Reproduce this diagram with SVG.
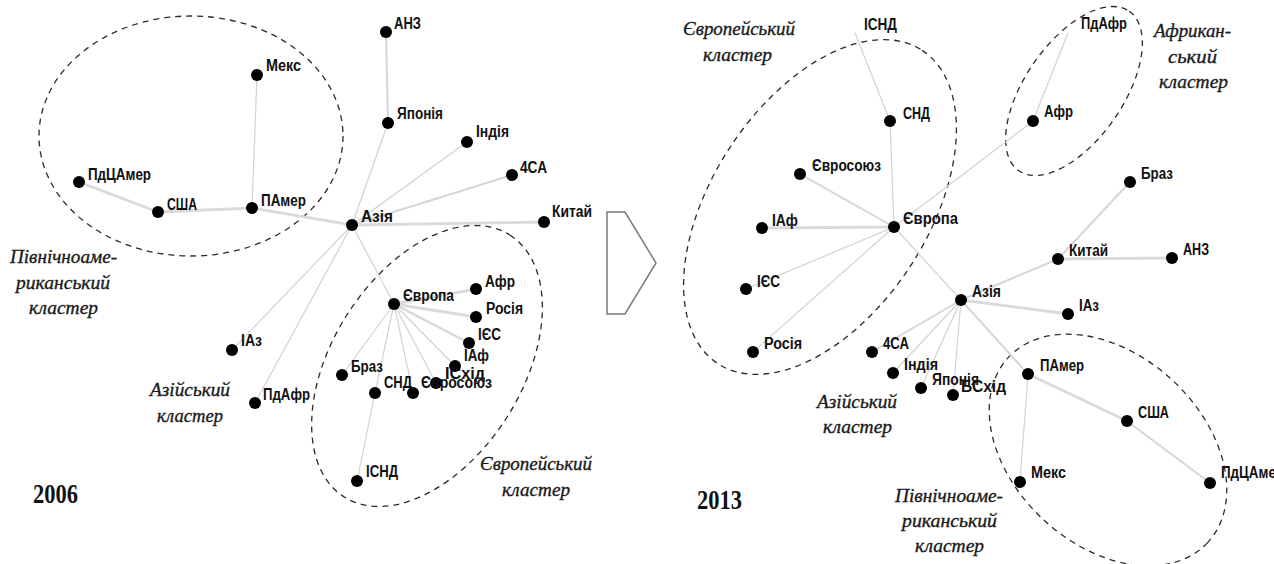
<svg xmlns="http://www.w3.org/2000/svg" width="1274" height="564" viewBox="0 0 1274 564">
<style>
.e{stroke:#d2d2d2;stroke-width:1.2;fill:none;stroke-linecap:round}
.m{stroke:#d6d6d6;stroke-width:2;fill:none;stroke-linecap:round}
.t{stroke:#dadada;stroke-width:2.8;fill:none;stroke-linecap:round}
.cl{fill:none;stroke:#2a2a2a;stroke-width:1.3;stroke-dasharray:6 5}
.n circle{fill:#000}
.n text{font-family:"Liberation Sans",Arial,sans-serif;font-weight:bold;font-size:16px;fill:#111}
.lb{font-family:"Liberation Serif","Times New Roman",serif;font-style:italic;font-size:19px;fill:#1a1a1a;stroke:#1a1a1a;stroke-width:0.35}
.yr{font-family:"Liberation Serif","Times New Roman",serif;font-weight:bold;font-size:27px;fill:#111}
</style>
<rect width="1274" height="564" fill="#fff"/>

<!-- clusters -->
<g id="clusters">
<ellipse class="cl" cx="191" cy="136" rx="152" ry="120"/>
<ellipse class="cl" cx="427" cy="366" rx="155" ry="95" transform="rotate(-57.7 427 366)"/>
<ellipse class="cl" cx="820" cy="207" rx="187" ry="108" transform="rotate(-56.9 820 207)"/>
<ellipse class="cl" cx="1074" cy="91" rx="97" ry="49" transform="rotate(-55.3 1074 91)"/>
<ellipse class="cl" cx="1108" cy="450" rx="136" ry="95" transform="rotate(42.9 1108 450)"/>
</g>

<!-- connectors -->
<g id="connectors">
<line class="m" x1="386" y1="32" x2="388" y2="123"/>
<line class="e" x1="388" y1="123" x2="352" y2="225"/>
<line class="e" x1="467" y1="142" x2="352" y2="225"/>
<line class="m" x1="512" y1="175" x2="352" y2="225"/>
<line class="t" x1="544" y1="222" x2="352" y2="225"/>
<line class="e" x1="257" y1="75" x2="252" y2="208"/>
<line class="t" x1="79" y1="182" x2="158" y2="212"/>
<line class="t" x1="158" y1="212" x2="252" y2="208"/>
<line class="t" x1="252" y1="208" x2="352" y2="225"/>
<line class="e" x1="352" y1="225" x2="232" y2="350"/>
<line class="e" x1="352" y1="225" x2="255" y2="403"/>
<line class="e" x1="352" y1="225" x2="394" y2="304"/>
<line class="t" x1="394" y1="304" x2="476" y2="289"/>
<line class="t" x1="394" y1="304" x2="476" y2="317"/>
<line class="m" x1="394" y1="304" x2="469" y2="343"/>
<line class="e" x1="394" y1="304" x2="455" y2="366"/>
<line class="e" x1="394" y1="304" x2="436" y2="383"/>
<line class="e" x1="394" y1="304" x2="413" y2="393"/>
<line class="e" x1="394" y1="304" x2="375" y2="393"/>
<line class="e" x1="394" y1="304" x2="342" y2="375"/>
<line class="e" x1="375" y1="393" x2="357" y2="481"/>

<line class="e" x1="855" y1="33" x2="890" y2="121"/>
<line class="e" x1="890" y1="121" x2="894" y2="227"/>
<line class="m" x1="800" y1="174" x2="894" y2="227"/>
<line class="t" x1="762" y1="228" x2="894" y2="227"/>
<line class="e" x1="746" y1="289" x2="894" y2="227"/>
<line class="e" x1="753" y1="352" x2="894" y2="227"/>
<line class="e" x1="894" y1="227" x2="1033" y2="121"/>
<line class="e" x1="1033" y1="121" x2="1068" y2="33"/>
<line class="e" x1="894" y1="227" x2="961" y2="300"/>
<line class="m" x1="961" y1="300" x2="1058" y2="259"/>
<line class="m" x1="1058" y1="259" x2="1130" y2="182"/>
<line class="t" x1="1058" y1="259" x2="1172" y2="258"/>
<line class="t" x1="961" y1="300" x2="1068" y2="314"/>
<line class="m" x1="961" y1="300" x2="872" y2="352"/>
<line class="e" x1="961" y1="300" x2="893" y2="373"/>
<line class="e" x1="961" y1="300" x2="921" y2="388"/>
<line class="e" x1="961" y1="300" x2="953" y2="395"/>
<line class="m" x1="961" y1="300" x2="1028" y2="374"/>
<line class="t" x1="1028" y1="374" x2="1127" y2="421"/>
<line class="m" x1="1127" y1="421" x2="1210" y2="483"/>
<line class="e" x1="1028" y1="374" x2="1020" y2="482"/>
</g>

<!-- 2006 nodes -->
<g class="n">
<g id="l-anz"><circle cx="386" cy="32" r="6"/><text x="394" y="29" textLength="27" lengthAdjust="spacingAndGlyphs">АНЗ</text></g>
<g id="l-japan"><circle cx="388" cy="123" r="6"/><text x="397" y="119" textLength="46" lengthAdjust="spacingAndGlyphs">Японія</text></g>
<g id="l-india"><circle cx="467" cy="142" r="6"/><text x="476" y="137" textLength="33" lengthAdjust="spacingAndGlyphs">Індія</text></g>
<g id="l-4ca"><circle cx="512" cy="175" r="6"/><text x="520" y="173" textLength="27" lengthAdjust="spacingAndGlyphs">4СА</text></g>
<g id="l-china"><circle cx="544" cy="222" r="6"/><text x="552" y="217" textLength="40" lengthAdjust="spacingAndGlyphs">Китай</text></g>
<g id="l-asia"><circle cx="352" cy="225" r="6"/><text x="361" y="222" textLength="32" lengthAdjust="spacingAndGlyphs">Азія</text></g>
<g id="l-mex"><circle cx="257" cy="75" r="6"/><text x="266" y="71" textLength="35" lengthAdjust="spacingAndGlyphs">Мекс</text></g>
<g id="l-pdcamer"><circle cx="79" cy="182" r="6"/><text x="88" y="180" textLength="63" lengthAdjust="spacingAndGlyphs">ПдЦАмер</text></g>
<g id="l-usa"><circle cx="158" cy="212" r="6"/><text x="167" y="210" textLength="30" lengthAdjust="spacingAndGlyphs">США</text></g>
<g id="l-pamer"><circle cx="252" cy="208" r="6"/><text x="261" y="206" textLength="45" lengthAdjust="spacingAndGlyphs">ПАмер</text></g>
<g id="l-europe"><circle cx="394" cy="304" r="6"/><text x="403" y="301" textLength="51" lengthAdjust="spacingAndGlyphs">Європа</text></g>
<g id="l-afr"><circle cx="476" cy="289" r="6"/><text x="485" y="287" textLength="30" lengthAdjust="spacingAndGlyphs">Афр</text></g>
<g id="l-russia"><circle cx="476" cy="317" r="6"/><text x="486" y="314" textLength="37" lengthAdjust="spacingAndGlyphs">Росія</text></g>
<g id="l-ies"><circle cx="469" cy="343" r="6"/><text x="478" y="340" textLength="23" lengthAdjust="spacingAndGlyphs">ІЄС</text></g>
<g id="l-ischid"><circle cx="436" cy="383" r="6"/><text x="445" y="379" textLength="40" lengthAdjust="spacingAndGlyphs">ІСхід</text></g>
<g id="l-iaf"><circle cx="455" cy="366" r="6"/><text x="464" y="361" textLength="25" lengthAdjust="spacingAndGlyphs">ІАф</text></g>
<g id="l-braz"><circle cx="342" cy="375" r="6"/><text x="351" y="372" textLength="32" lengthAdjust="spacingAndGlyphs">Браз</text></g>
<g id="l-snd"><circle cx="375" cy="393" r="6"/><text x="384" y="388" textLength="28" lengthAdjust="spacingAndGlyphs">СНД</text></g>
<g id="l-eu"><circle cx="413" cy="393" r="6"/><text x="421" y="388" textLength="71" lengthAdjust="spacingAndGlyphs">Євросоюз</text></g>
<g id="l-isnd"><circle cx="357" cy="481" r="6"/><text x="366" y="477" textLength="32" lengthAdjust="spacingAndGlyphs">ІСНД</text></g>
<g id="l-iaz"><circle cx="232" cy="350" r="6"/><text x="241" y="346" textLength="21" lengthAdjust="spacingAndGlyphs">ІАз</text></g>
<g id="l-pdafr"><circle cx="255" cy="403" r="6"/><text x="263" y="400" textLength="47" lengthAdjust="spacingAndGlyphs">ПдАфр</text></g>
</g>

<!-- 2013 nodes -->
<g class="n">
<g id="r-isnd"><text x="864" y="30" textLength="33" lengthAdjust="spacingAndGlyphs">ІСНД</text></g>
<g id="r-snd"><circle cx="890" cy="121" r="6"/><text x="903" y="119" textLength="27" lengthAdjust="spacingAndGlyphs">СНД</text></g>
<g id="r-eu"><circle cx="800" cy="174" r="6"/><text x="812" y="171" textLength="69" lengthAdjust="spacingAndGlyphs">Євросоюз</text></g>
<g id="r-europe"><circle cx="894" cy="227" r="6"/><text x="903" y="224" textLength="55" lengthAdjust="spacingAndGlyphs">Європа</text></g>
<g id="r-iaf"><circle cx="762" cy="228" r="6"/><text x="772" y="226" textLength="26" lengthAdjust="spacingAndGlyphs">ІАф</text></g>
<g id="r-ies"><circle cx="746" cy="289" r="6"/><text x="757" y="287" textLength="23" lengthAdjust="spacingAndGlyphs">ІЄС</text></g>
<g id="r-russia"><circle cx="753" cy="352" r="6"/><text x="764" y="349" textLength="38" lengthAdjust="spacingAndGlyphs">Росія</text></g>
<g id="r-asia"><circle cx="961" cy="300" r="6"/><text x="972" y="297" textLength="29" lengthAdjust="spacingAndGlyphs">Азія</text></g>
<g id="r-afr"><circle cx="1033" cy="121" r="6"/><text x="1044" y="117" textLength="29" lengthAdjust="spacingAndGlyphs">Афр</text></g>
<g id="r-pdafr"><text x="1081" y="29" textLength="46" lengthAdjust="spacingAndGlyphs">ПдАфр</text></g>
<g id="r-braz"><circle cx="1130" cy="182" r="6"/><text x="1141" y="179" textLength="32" lengthAdjust="spacingAndGlyphs">Браз</text></g>
<g id="r-china"><circle cx="1058" cy="259" r="6"/><text x="1069" y="256" textLength="39" lengthAdjust="spacingAndGlyphs">Китай</text></g>
<g id="r-anz"><circle cx="1172" cy="258" r="6"/><text x="1183" y="255" textLength="26" lengthAdjust="spacingAndGlyphs">АНЗ</text></g>
<g id="r-iaz"><circle cx="1068" cy="314" r="6"/><text x="1079" y="311" textLength="20" lengthAdjust="spacingAndGlyphs">ІАз</text></g>
<g id="r-4ca"><circle cx="872" cy="352" r="6"/><text x="883" y="349" textLength="26" lengthAdjust="spacingAndGlyphs">4СА</text></g>
<g id="r-india"><circle cx="893" cy="373" r="6"/><text x="904" y="370" textLength="34" lengthAdjust="spacingAndGlyphs">Індія</text></g>
<g id="r-japan"><circle cx="921" cy="388" r="6"/><text x="932" y="385" textLength="47" lengthAdjust="spacingAndGlyphs">Японія</text></g>
<g id="r-bschid"><circle cx="953" cy="395" r="6"/><text x="961" y="392" textLength="45" lengthAdjust="spacingAndGlyphs">БСхід</text></g>
<g id="r-pamer"><circle cx="1028" cy="374" r="6"/><text x="1040" y="371" textLength="44" lengthAdjust="spacingAndGlyphs">ПАмер</text></g>
<g id="r-usa"><circle cx="1127" cy="421" r="6"/><text x="1138" y="418" textLength="31" lengthAdjust="spacingAndGlyphs">США</text></g>
<g id="r-pdcamer"><circle cx="1210" cy="483" r="6"/><text x="1221" y="478" textLength="63" lengthAdjust="spacingAndGlyphs">ПдЦАмер</text></g>
<g id="r-mex"><circle cx="1020" cy="482" r="6"/><text x="1031" y="478" textLength="35" lengthAdjust="spacingAndGlyphs">Мекс</text></g>
</g>

<!-- cluster labels -->
<g id="cluster-labels">
<text class="lb" x="10" y="263" textLength="107" lengthAdjust="spacingAndGlyphs">Північноаме-</text>
<text class="lb" x="16" y="289" textLength="94" lengthAdjust="spacingAndGlyphs">риканський</text>
<text class="lb" x="29" y="314" textLength="69" lengthAdjust="spacingAndGlyphs">кластер</text>
<text class="lb" x="150" y="396" textLength="80" lengthAdjust="spacingAndGlyphs">Азійський</text>
<text class="lb" x="157" y="422" textLength="66" lengthAdjust="spacingAndGlyphs">кластер</text>
<text class="lb" x="480" y="470" textLength="112" lengthAdjust="spacingAndGlyphs">Європейський</text>
<text class="lb" x="502" y="496" textLength="68" lengthAdjust="spacingAndGlyphs">кластер</text>

<text class="lb" x="683" y="35" textLength="112" lengthAdjust="spacingAndGlyphs">Європейський</text>
<text class="lb" x="703" y="61" textLength="69" lengthAdjust="spacingAndGlyphs">кластер</text>
<text class="lb" x="1154" y="37" textLength="77" lengthAdjust="spacingAndGlyphs">Африкан-</text>
<text class="lb" x="1168" y="63" textLength="49" lengthAdjust="spacingAndGlyphs">ський</text>
<text class="lb" x="1159" y="88" textLength="69" lengthAdjust="spacingAndGlyphs">кластер</text>
<text class="lb" x="817" y="408" textLength="80" lengthAdjust="spacingAndGlyphs">Азійський</text>
<text class="lb" x="823" y="433" textLength="69" lengthAdjust="spacingAndGlyphs">кластер</text>
<text class="lb" x="895" y="502" textLength="108" lengthAdjust="spacingAndGlyphs">Північноаме-</text>
<text class="lb" x="902" y="527" textLength="95" lengthAdjust="spacingAndGlyphs">риканський</text>
<text class="lb" x="915" y="552" textLength="69" lengthAdjust="spacingAndGlyphs">кластер</text>
</g>

<g id="years">
<text class="yr" x="33" y="503" textLength="45" lengthAdjust="spacingAndGlyphs">2006</text>
<text class="yr" x="697" y="509" textLength="45" lengthAdjust="spacingAndGlyphs">2013</text>
</g>

<g id="arrow">
<polygon points="607,212 625,212 656,263 625,314 607,314" fill="none" stroke="#7a7a7a" stroke-width="1.5"/>
</g>
</svg>
